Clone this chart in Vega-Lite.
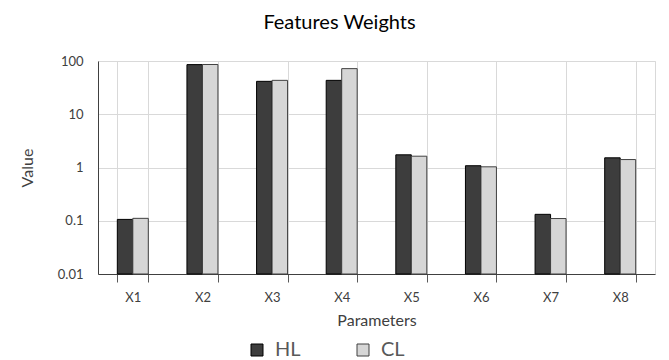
{
  "$schema": "https://vega.github.io/schema/vega-lite/v6.json",
  "autosize": "none",
  "width": 557,
  "height": 213,
  "padding": {"left": 98, "top": 61, "right": 14, "bottom": 86},
  "background": "#ffffff",
  "title": {
    "text": "Features Weights",
    "font": "Lato",
    "fontSize": 20,
    "fontWeight": "normal",
    "color": "#000000",
    "anchor": "middle",
    "dx": -37,
    "offset": 22
  },
  "data": {
    "values": [
      {"param": "X1", "series": "HL", "value": 0.106},
      {"param": "X1", "series": "CL", "value": 0.111},
      {"param": "X2", "series": "HL", "value": 85.5},
      {"param": "X2", "series": "CL", "value": 86},
      {"param": "X3", "series": "HL", "value": 41.5},
      {"param": "X3", "series": "CL", "value": 43.3},
      {"param": "X4", "series": "HL", "value": 43.3},
      {"param": "X4", "series": "CL", "value": 71.9},
      {"param": "X5", "series": "HL", "value": 1.73},
      {"param": "X5", "series": "CL", "value": 1.63},
      {"param": "X6", "series": "HL", "value": 1.08},
      {"param": "X6", "series": "CL", "value": 1.03},
      {"param": "X7", "series": "HL", "value": 0.132},
      {"param": "X7", "series": "CL", "value": 0.110},
      {"param": "X8", "series": "HL", "value": 1.52},
      {"param": "X8", "series": "CL", "value": 1.41}
    ]
  },
  "mark": {"type": "bar", "strokeWidth": 1},
  "encoding": {
    "x": {
      "field": "param",
      "type": "nominal",
      "scale": {"paddingInner": 0.555, "paddingOuter": 0.2775},
      "axis": {
        "title": "Parameters",
        "titleFont": "Lato",
        "titleFontSize": 16,
        "titleFontWeight": "normal",
        "titleColor": "#404040",
        "titlePadding": 8,
        "labelFont": "Lato",
        "labelFontSize": 13,
        "labelColor": "#404040",
        "labelAngle": 0,
        "labelPadding": 9,
        "tickBand": "extent",
        "tickSize": 8,
        "tickColor": "#595959",
        "domainColor": "#404040",
        "grid": true,
        "gridColor": "#d9d9d9"
      }
    },
    "xOffset": {"field": "series", "type": "nominal", "sort": ["HL", "CL"]},
    "y": {
      "field": "value",
      "type": "quantitative",
      "scale": {"type": "log", "domain": [0.01, 100]},
      "axis": {
        "title": "Value",
        "titleFont": "Lato",
        "titleFontSize": 16,
        "titleFontWeight": "normal",
        "titleColor": "#404040",
        "titlePadding": 22,
        "values": [0.01, 0.1, 1, 10, 100],
        "format": "~g",
        "labelFont": "Lato",
        "labelFontSize": 13,
        "labelColor": "#404040",
        "labelPadding": 15,
        "ticks": false,
        "domain": true,
        "domainColor": "#404040",
        "grid": true,
        "gridColor": "#d9d9d9"
      }
    },
    "y2": {"datum": 0.01},
    "color": {
      "field": "series",
      "type": "nominal",
      "sort": ["HL", "CL"],
      "scale": {"domain": ["HL", "CL"], "range": ["#3d3d3d", "#d6d6d6"]},
      "legend": {
        "title": null,
        "orient": "none",
        "direction": "horizontal",
        "legendX": 149,
        "legendY": 279,
        "symbolType": "square",
        "symbolSize": 144,
        "symbolStrokeColor": "#333333",
        "symbolStrokeWidth": 1,
        "labelFont": "Lato",
        "labelFontSize": 20,
        "labelColor": "#595959",
        "labelOffset": 8,
        "columnPadding": 52
      }
    },
    "stroke": {
      "field": "series",
      "type": "nominal",
      "scale": {"domain": ["HL", "CL"], "range": ["#000000", "#404040"]},
      "legend": null
    }
  },
  "config": {
    "view": {"stroke": "#d9d9d9"}
  }
}
